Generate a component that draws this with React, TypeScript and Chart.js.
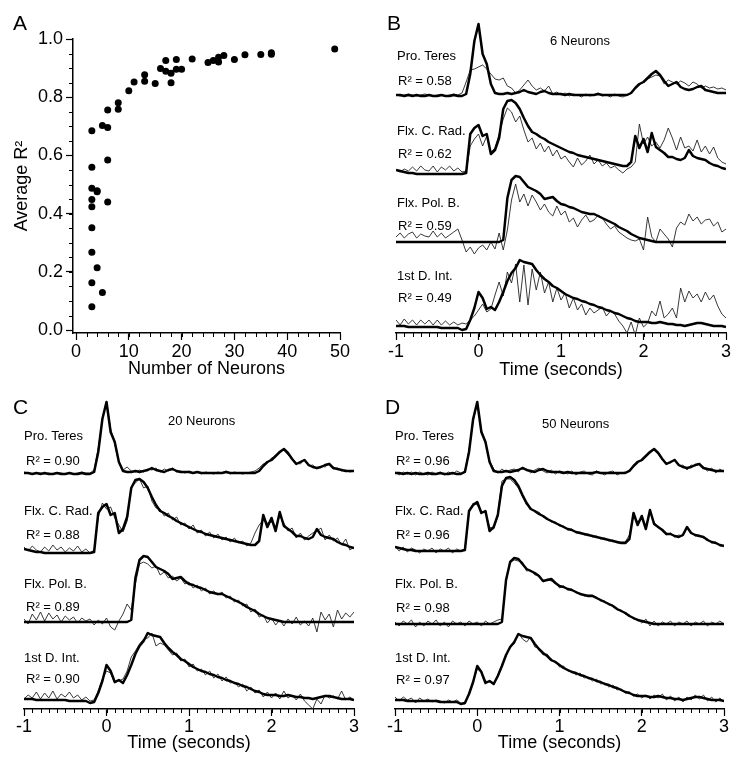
import React, { useEffect, useRef } from 'react';
import { Chart, registerables } from 'chart.js';

Chart.register(...registerables);

const FONT = "'Liberation Sans', Arial, Helvetica, sans-serif";
Chart.defaults.font.family = FONT;
Chart.defaults.color = '#000';

// ---------------- Panel A data ----------------
const neuronCounts = [3, 3, 3, 3, 3, 3, 3, 3, 3, 4, 4, 4, 5, 5, 6, 6, 6, 6, 8, 8, 10, 11, 13, 13, 15, 16, 17, 17, 18, 18, 19, 19, 20, 22, 25, 26, 27, 27, 28, 30, 32, 35, 37, 37, 49];
const averageR2 = [0.685, 0.559, 0.487, 0.449, 0.424, 0.352, 0.267, 0.163, 0.08, 0.479, 0.475, 0.214, 0.703, 0.129, 0.756, 0.696, 0.584, 0.44, 0.781, 0.759, 0.822, 0.852, 0.877, 0.855, 0.847, 0.899, 0.926, 0.889, 0.882, 0.85, 0.93, 0.896, 0.896, 0.931, 0.919, 0.926, 0.937, 0.921, 0.943, 0.93, 0.946, 0.947, 0.953, 0.948, 0.966];
const neuronTicks = [0, 10, 20, 30, 40, 50];
const r2Ticks = [0, 0.2, 0.4, 0.6, 0.8, 1.0];

// ---------------- Panels B-D data ----------------
const timeStart = -1;
const timeStep = 0.05;
const timeTicks = [-1, 0, 1, 2, 3];
const muscleNames = ['Pro. Teres', 'Flx. C. Rad.', 'Flx. Pol. B.', '1st D. Int.'];
const neuronLabels = ['6 Neurons', '20 Neurons', '50 Neurons'];
const r2B = ['0.58', '0.62', '0.59', '0.49'];
const r2C = ['0.90', '0.88', '0.89', '0.90'];
const r2D = ['0.96', '0.96', '0.98', '0.97'];

// actual EMG (thick), samples every 0.05 s from -1 to 3
const actualProTeres = [
  1, 1, 0, 1, 0, 1, 0, 0, 1, 0,
  0, 1, 0, 0, 1, 0, 0, 2, 22, 55,
  72, 42, 32, 12, 3, 2, 2, 3, 2, 3,
  4, 6, 4, 3, 2, 4, 5, 3, 2, 2,
  2, 1, 2, 1, 1, 1, 1, 1, 1, 2,
  1, 1, 1, 1, 1, 1, 1, 3, 8, 12,
  14, 18, 22, 25, 21, 15, 10, 12, 14, 9,
  7, 6, 7, 9, 10, 6, 5, 4, 3, 3,
  3];
const actualFlxCRad = [
  4, 3, 2, 1, 1, 0, 0, 0, 0, 0,
  0, 0, 0, 0, 0, 0, 0, 1, 40, 46,
  49, 38, 40, 20, 24, 36, 65, 73, 74, 71,
  65, 56, 48, 42, 40, 37, 35, 32, 30, 28,
  26, 24, 22, 21, 19, 18, 17, 16, 15, 14,
  13, 12, 11, 10, 9, 8, 8, 12, 38, 26,
  35, 22, 41, 27, 24, 21, 17, 17, 15, 14,
  16, 24, 18, 16, 15, 14, 11, 9, 8, 6,
  5];
const actualFlxPolB = [
  0, 0, 0, 0, 0, 0, 0, 0, 0, 0,
  0, 0, 0, 0, 0, 0, 0, 0, 0, 0,
  0, 0, 0, 0, 0, 0, 2, 44, 62, 66,
  65, 60, 55, 53, 51, 48, 43, 44, 45, 41,
  38, 37, 35, 34, 32, 30, 29, 28, 28, 26,
  24, 22, 20, 18, 15, 13, 11, 8, 6, 4,
  3, 2, 1, 0, 0, 0, 0, 0, 0, 0,
  0, 0, 0, 0, 0, 0, 0, 0, 0, 0,
  0];
const actualFirstDInt = [
  2, 2, 2, 1, 1, 1, 1, 1, 1, 1,
  1, 0, 0, 0, 0, 0, -2, -1, 8, 20,
  36, 30, 19, 21, 18, 26, 36, 47, 55, 60,
  68, 66, 65, 64, 58, 53, 49, 46, 42, 40,
  37, 34, 32, 30, 29, 27, 26, 24, 23, 21,
  20, 18, 17, 15, 14, 12, 10, 9, 7, 6,
  6, 6, 5, 5, 6, 5, 4, 4, 3, 3,
  2, 3, 4, 5, 5, 4, 3, 2, 2, 2,
  1];

// predicted EMG, 6 neurons (thin)
const predB_ProTeres = [
  1, 0, 1, 2, 1, 0, 1, 2, 1, 0,
  1, 1, 0, 1, 2, 1, 3, 14, 26, 27,
  29, 31, 27, 22, 17, 16, 18, 10, 8, 3,
  6, 11, 16, 10, 6, 8, 5, 10, 2, 4,
  1, 3, 0, 2, 1, -1, 2, 0, 1, 3,
  0, 1, -1, 2, 0, -1, 1, 3, 8, 11,
  14, 17, 19, 21, 20, 12, 16, 14, 12, 15,
  13, 10, 14, 12, 8, 10, 8, 9, 7, 8,
  6];
const predB_FlxCRad = [
  4, 2, 5, 3, 7, 3, 8, 4, 3, 8,
  2, 7, 4, 8, 3, 6, 2, 3, 28, 35,
  40, 28, 38, 22, 26, 40, 55, 66, 62, 52,
  58, 44, 32, 36, 25, 31, 22, 28, 18, 24,
  15, 18, 12, 7, 16, 9, 13, 19, 10, 14,
  8, 11, 6, 8, 4, 1, 5, 7, 12, 50,
  30, 37, 28, 32, 26, 34, 46, 36, 24, 37,
  26, 28, 23, 34, 22, 28, 20, 27, 16, 12,
  10];
const predB_FlxPolB = [
  5, 9, 4, 8, 10, 4, 8, 6, 5, 11,
  5, 9, 4, 7, 10, 13, 2, -10, -5, -12,
  -6, -3, -8, 0, -7, 9, -8, 12, 42, 58,
  40, 48, 36, 47, 40, 32, 38, 30, 26, 36,
  27, 31, 20, 24, 15, 22, 27, 20, 22, 27,
  24, 18, 13, 16, 10, 7, 4, 2, 1, 3,
  -8, 25, 5, 0, 13, 8, 3, -5, 14, 20,
  17, 28, 21, 25, 18, 22, 23, 16, 20, 10,
  13];
const predB_FirstDInt = [
  8, 3, 9, 4, 8, 3, 8, 4, 8, 3,
  8, 3, 7, 3, 6, 3, 5, 4, 8, 12,
  18, 24, 16, 19, 33, 46, 32, 56, 45, 64,
  26, 63, 23, 59, 38, 56, 35, 46, 26, 40,
  28, 35, 20, 30, 18, 24, 13, 20, 15, 18,
  21, 12, 17, 14, 7, 2, -5, 6, -7, 10,
  1, 5, 17, 12, 27, 10, 14, 20, 10, 40,
  26, 37, 30, 34, 26, 36, 28, 33, 22, 14,
  10];

// predicted EMG, 20 neurons (thin)
const predC_ProTeres = [
  2, 1, 0, 1, 1, 0, 1, 0, 1, 1,
  0, 1, 0, 1, 2, 1, 1, 4, 26, 55,
  73, 45, 30, 12, 4, 7, 3, 2, 4, 2,
  5, 4, 6, 2, 5, 3, 6, 2, 3, 1,
  3, 1, 2, 0, 2, 1, 0, 2, 1, 3,
  0, 2, 1, 0, 1, 2, 3, 6, 10, 11,
  16, 17, 23, 24, 19, 16, 11, 10, 15, 8,
  9, 5, 8, 7, 11, 5, 6, 3, 4, 2,
  3];
const predC_FlxCRad = [
  6, 2, 7, 3, 1, 6, 2, 8, 3, 6,
  1, 5, 2, 7, 1, 4, 0, 3, 36, 50,
  44, 46, 35, 28, 21, 32, 66, 70, 74, 65,
  67, 52, 45, 44, 37, 40, 33, 36, 28, 30,
  24, 28, 20, 23, 17, 21, 15, 19, 13, 16,
  11, 15, 10, 12, 7, 10, 20, 28, 33, 30,
  31, 26, 37, 30, 22, 25, 15, 20, 13, 17,
  20, 22, 25, 13, 18, 12, 15, 8, 14, 3,
  6];
const predC_FlxPolB = [
  3, -2, 8, 2, 10, 1, 9, 3, 7, 0,
  6, 2, 5, -1, 4, 1, 3, -3, 2, -2,
  4, -5, -8, 1, 8, 18, 12, 38, 58, 60,
  58, 54, 56, 47, 50, 44, 46, 41, 44, 38,
  40, 34, 37, 31, 34, 28, 31, 27, 30, 24,
  26, 20, 22, 16, 18, 10, 13, 5, 7, -1,
  4, -3, 2, -4, 3, -2, 5, -3, 1, -4,
  4, -10, 10, 2, 8, -5, 12, 3, 9, 5,
  10];
const predC_FirstDInt = [
  2, 6, 3, 9, 2, 8, 3, 10, 2, 7,
  4, 9, 3, 6, 1, 4, 0, 1, 10, 22,
  30, 28, 18, 20, 22, 30, 44, 50, 57, 62,
  63, 68, 55, 58, 56, 51, 46, 48, 40, 42,
  34, 37, 30, 32, 26, 30, 23, 27, 20, 24,
  18, 19, 14, 17, 10, 14, 8, 11, 4, 9,
  3, 8, 2, 10, 3, 6, 1, 7, 0, -4,
  -8, 2, -3, 6, 3, 5, 2, 10, 1, 4,
  1];

// predicted EMG, 50 neurons (thin)
const predD_ProTeres = [
  2, -1, 2, 0, 2, -1, 2, 0, -1, 2,
  0, 2, -1, 2, 0, 3, 1, 3, 24, 53,
  71, 44, 32, 13, 5, 1, 5, 2, 4, 5,
  2, 7, 5, 1, 4, 6, 3, 1, 4, 0,
  3, 2, 0, 3, -1, 2, 3, 0, -1, 3,
  1, -1, 2, 3, -1, 1, 2, 4, 7, 13,
  13, 19, 21, 24, 22, 14, 11, 11, 15, 8,
  9, 4, 9, 8, 10, 6, 3, 6, 1, 5,
  2];
const predD_FlxCRad = [
  5, 0, 4, -1, 3, 1, -2, 2, 0, 3,
  -2, 2, 0, 3, -2, 2, 0, 2, 38, 48,
  46, 40, 38, 24, 22, 37, 70, 72, 72, 68,
  63, 54, 46, 43, 39, 39, 34, 33, 29, 29,
  25, 25, 21, 22, 18, 19, 16, 17, 14, 15,
  12, 13, 10, 11, 8, 9, 9, 16, 36, 29,
  33, 24, 39, 29, 23, 22, 16, 18, 14, 16,
  15, 23, 19, 15, 16, 13, 12, 8, 9, 5,
  6];
const predD_FlxPolB = [
  2, -2, 3, 0, 4, -3, 2, -2, 3, 0,
  4, -2, 2, -3, 3, 0, 2, -2, 3, 0,
  2, -2, 3, 0, 2, 4, 5, 42, 63, 64,
  63, 62, 53, 54, 49, 49, 42, 45, 43, 42,
  36, 38, 34, 35, 31, 31, 28, 29, 29, 27,
  23, 23, 19, 19, 14, 14, 10, 9, 5, 5,
  1, 5, -2, 3, -2, 2, 0, 3, -2, 2,
  0, 3, -2, 2, 0, 3, -2, 2, 0, 3,
  0];
const predD_FirstDInt = [
  5, 1, 5, 2, 4, -1, 4, 1, 3, 0,
  2, 1, -1, 2, 0, 2, -1, -2, 9, 21,
  33, 30, 21, 20, 19, 27, 37, 46, 56, 58,
  69, 63, 60, 65, 55, 54, 47, 48, 41, 41,
  35, 36, 31, 31, 27, 29, 24, 25, 21, 23,
  18, 19, 15, 17, 12, 13, 9, 10, 6, 8,
  4, 7, 3, 7, 4, 8, 2, 6, 1, 5,
  0, 5, 2, 7, 3, 7, 1, 5, 0, 4,
  0];

const actualSeries = [actualProTeres, actualFlxCRad, actualFlxPolB, actualFirstDInt];
const predictedB = [predB_ProTeres, predB_FlxCRad, predB_FlxPolB, predB_FirstDInt];
const predictedC = [predC_ProTeres, predC_FlxCRad, predC_FlxPolB, predC_FirstDInt];
const predictedD = [predD_ProTeres, predD_FlxCRad, predD_FlxPolB, predD_FirstDInt];

// ---------------- helpers ----------------
const minorTickPlugin = {
  id: 'minorTicks',
  afterDraw(chart: any, _args: any, opts: any) {
    const specs = (opts && opts.specs) || [];
    const ctx = chart.ctx;
    ctx.save();
    ctx.strokeStyle = '#000';
    ctx.lineWidth = 1;
    for (const s of specs) {
      const scale = chart.scales[s.axis];
      if (!scale) continue;
      const n = Math.round((s.to - s.from) / s.step);
      for (let i = 0; i <= n; i++) {
        const v = s.from + i * s.step;
        const p = Math.round(scale.getPixelForValue(v)) + 0.5;
        ctx.beginPath();
        if (scale.isHorizontal()) {
          ctx.moveTo(p, scale.top);
          ctx.lineTo(p, scale.top + s.len);
        } else {
          ctx.moveTo(scale.right - s.len, p);
          ctx.lineTo(scale.right, p);
        }
        ctx.stroke();
      }
    }
    ctx.restore();
  },
};

function toPoints(values: number[], offset: number) {
  return values.map((v, i) => ({ x: timeStart + i * timeStep, y: v + offset }));
}

function scatterConfig(): any {
  return {
    type: 'scatter',
    data: {
      datasets: [
        {
          data: neuronCounts.map((n, i) => ({ x: n, y: averageR2[i] })),
          backgroundColor: '#000',
          borderColor: '#000',
          pointRadius: 3.5,
          pointHoverRadius: 3.5,
          borderWidth: 0,
        },
      ],
    },
    options: {
      animation: false,
      responsive: false,
      events: [],
      layout: { padding: { left: 4, top: 39, right: 30, bottom: 0 } },
      plugins: {
        legend: { display: false },
        tooltip: { enabled: false },
        minorTicks: {
          specs: [
            { axis: 'x', from: 0, to: 50, step: 2, len: 4 },
            { axis: 'y', from: 0, to: 1, step: 0.05, len: 4 },
          ],
        },
      },
      scales: {
        x: {
          type: 'linear',
          min: -0.57,
          max: 50,
          afterBuildTicks: (s: any) => {
            s.ticks = neuronTicks.map((v) => ({ value: v }));
          },
          afterFit: (s: any) => {
            s.height = 52;
          },
          ticks: { font: { size: 18, family: FONT }, color: '#000', padding: 1, maxRotation: 0, autoSkip: false, callback: (v: any) => String(v) },
          grid: { drawOnChartArea: false, tickLength: 7, tickColor: '#000', tickWidth: 1.2 },
          border: { color: '#000', width: 1.5 },
          title: { display: true, text: 'Number of Neurons', font: { size: 18, family: FONT }, color: '#000', padding: { top: 0, bottom: 5 } },
        },
        y: {
          type: 'linear',
          min: -0.01,
          max: 1,
          afterBuildTicks: (s: any) => {
            s.ticks = r2Ticks.map((v) => ({ value: v }));
          },
          afterFit: (s: any) => {
            s.width = 69;
          },
          ticks: { font: { size: 18, family: FONT }, color: '#000', padding: 3, autoSkip: false, callback: (v: any) => Number(v).toFixed(1) },
          grid: { drawOnChartArea: false, tickLength: 7, tickColor: '#000', tickWidth: 1.2 },
          border: { color: '#000', width: 1.5 },
          title: { display: true, text: 'Average R²', font: { size: 18, family: FONT }, color: '#000', padding: { top: 7, bottom: 0 } },
        },
      },
    },
    plugins: [minorTickPlugin],
  };
}

type TraceLayout = {
  padLeft: number;
  padRight: number;
  padTop: number;
  axisHeight: number;
  titlePad: number;
  tickPad: number;
  offsets: number[];
};

function traceConfig(predicted: number[][], L: TraceLayout): any {
  const datasets: any[] = [];
  actualSeries.forEach((vals, m) => {
    datasets.push({
      data: toPoints(vals, L.offsets[m]),
      borderColor: '#000',
      borderWidth: 2.5,
      pointRadius: 0,
      tension: 0,
      fill: false,
      order: 0,
      borderJoinStyle: 'round',
    });
    datasets.push({
      data: toPoints(predicted[m], L.offsets[m]),
      borderColor: '#222',
      borderWidth: 0.9,
      pointRadius: 0,
      tension: 0,
      fill: false,
      order: 1,
    });
  });
  return {
    type: 'line',
    data: { datasets },
    options: {
      animation: false,
      responsive: false,
      events: [],
      layout: { padding: { left: L.padLeft, right: L.padRight, top: L.padTop, bottom: 0 } },
      plugins: {
        legend: { display: false },
        tooltip: { enabled: false },
        minorTicks: { specs: [{ axis: 'x', from: -1, to: 3, step: 0.1, len: 4 }] },
      },
      scales: {
        x: {
          type: 'linear',
          min: -1,
          max: 3,
          afterBuildTicks: (s: any) => {
            s.ticks = timeTicks.map((v) => ({ value: v }));
          },
          afterFit: (s: any) => {
            s.height = L.axisHeight;
          },
          ticks: { font: { size: 18, family: FONT }, color: '#000', padding: L.tickPad, maxRotation: 0, autoSkip: false, callback: (v: any) => String(v) },
          grid: { drawOnChartArea: false, tickLength: 7, tickColor: '#000', tickWidth: 1.2 },
          border: { color: '#000', width: 1.5 },
          title: { display: true, text: 'Time (seconds)', font: { size: 18, family: FONT }, color: '#000', padding: { top: 0, bottom: L.titlePad } },
        },
        y: { type: 'linear', display: false, min: 0, max: 320 },
      },
    },
    plugins: [minorTickPlugin],
  };
}

function ChartBox(props: { left: number; top: number; width: number; height: number; make: () => any }) {
  const ref = useRef<HTMLCanvasElement>(null);
  useEffect(() => {
    const chart = new Chart(ref.current as HTMLCanvasElement, props.make());
    return () => chart.destroy();
  }, []);
  return (
    <canvas
      ref={ref}
      width={props.width}
      height={props.height}
      style={{ position: 'absolute', left: props.left, top: props.top, width: props.width, height: props.height }}
    />
  );
}

function Label(props: { x: number; capTop: number; size: number; children: any }) {
  return (
    <div
      style={{
        position: 'absolute',
        left: props.x,
        top: props.capTop - 0.13 * props.size,
        fontSize: props.size,
        lineHeight: 1,
        fontFamily: FONT,
        color: '#000',
        whiteSpace: 'nowrap',
      }}
    >
      {props.children}
    </div>
  );
}

type PanelDef = {
  letter: string;
  box: { left: number; top: number; width: number; height: number };
  layout: TraceLayout;
  predicted: number[][];
  neurons: string;
  r2: string[];
  letterPos: [number, number];
  neuronPos: [number, number];
  nameX: number;
  r2X: number;
  nameTops: number[];
  r2Tops: number[];
};

const tracePanels: PanelDef[] = [
  {
    letter: 'B',
    box: { left: 370, top: 0, width: 373, height: 385 },
    layout: { padLeft: 26, padRight: 17, padTop: 13, axisHeight: 52, titlePad: 4, tickPad: 1, offsets: [237, 159, 91, 5] },
    predicted: predictedB,
    neurons: neuronLabels[0],
    r2: r2B,
    letterPos: [387, 15],
    neuronPos: [550, 36],
    nameX: 397,
    r2X: 398,
    nameTops: [50.5, 125.7, 197.3, 270.7],
    r2Tops: [76, 149, 220.7, 292.3],
  },
  {
    letter: 'C',
    box: { left: 0, top: 385, width: 370, height: 380 },
    layout: { padLeft: 24, padRight: 16, padTop: 4, axisHeight: 56, titlePad: 11, tickPad: 0, offsets: [235, 156, 87, 8] },
    predicted: predictedC,
    neurons: neuronLabels[1],
    r2: r2C,
    letterPos: [13, 399],
    neuronPos: [168, 416],
    nameX: 24,
    r2X: 26,
    nameTops: [431, 505.7, 579, 652.7],
    r2Tops: [456, 529.3, 601.7, 674],
  },
  {
    letter: 'D',
    box: { left: 370, top: 385, width: 373, height: 380 },
    layout: { padLeft: 25, padRight: 19, padTop: 4, axisHeight: 56, titlePad: 11, tickPad: 0, offsets: [235, 158, 85, 7] },
    predicted: predictedD,
    neurons: neuronLabels[2],
    r2: r2D,
    letterPos: [385, 399],
    neuronPos: [542, 419],
    nameX: 395,
    r2X: 396,
    nameTops: [431, 505.7, 579, 652.7],
    r2Tops: [456, 529.3, 602.3, 674.3],
  },
];

export default function App() {
  return (
    <div style={{ position: 'absolute', left: 0, top: 0, width: 743, height: 765, background: '#fff', overflow: 'hidden' }}>
      <ChartBox left={0} top={0} width={370} height={385} make={scatterConfig} />
      <Label x={13} capTop={15} size={21}>A</Label>
      {tracePanels.map((p) => (
        <React.Fragment key={p.letter}>
          <ChartBox left={p.box.left} top={p.box.top} width={p.box.width} height={p.box.height} make={() => traceConfig(p.predicted, p.layout)} />
          <Label x={p.letterPos[0]} capTop={p.letterPos[1]} size={21}>{p.letter}</Label>
          <Label x={p.neuronPos[0]} capTop={p.neuronPos[1]} size={13}>{p.neurons}</Label>
          {muscleNames.map((name, m) => (
            <React.Fragment key={name}>
              <Label x={p.nameX} capTop={p.nameTops[m]} size={13}>{name}</Label>
              <Label x={p.r2X} capTop={p.r2Tops[m]} size={13}>{`R² = ${p.r2[m]}`}</Label>
            </React.Fragment>
          ))}
        </React.Fragment>
      ))}
    </div>
  );
}
